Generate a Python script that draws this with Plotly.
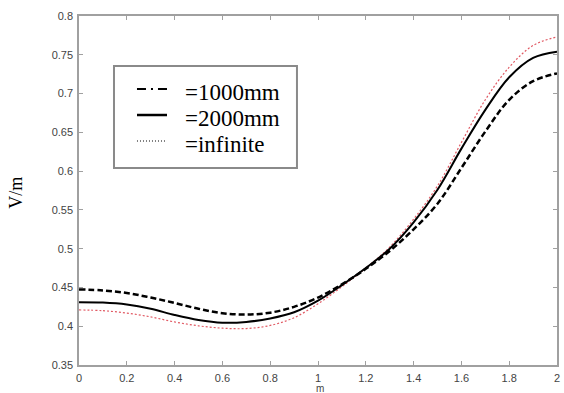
import plotly.graph_objects as go

# ---- data ----
x_m = [0.0, 0.1, 0.2, 0.3, 0.4, 0.5, 0.6, 0.7, 0.8, 0.9, 1.0,
       1.1, 1.2, 1.3, 1.4, 1.5, 1.6, 1.7, 1.8, 1.9, 2.0]
v_1000mm = [0.4475, 0.4462, 0.4428, 0.437, 0.430, 0.4225, 0.4168, 0.415, 0.4175, 0.425, 0.437,
            0.454, 0.474, 0.497, 0.525, 0.558, 0.604, 0.651, 0.692, 0.716, 0.726]
v_2000mm = [0.431, 0.4305, 0.428, 0.4225, 0.4145, 0.408, 0.4045, 0.4055, 0.410, 0.418, 0.433,
            0.453, 0.475, 0.500, 0.534, 0.576, 0.629, 0.679, 0.721, 0.746, 0.754]
v_infinite = [0.421, 0.420, 0.417, 0.412, 0.4055, 0.4005, 0.3975, 0.397, 0.401, 0.411, 0.429,
              0.451, 0.475, 0.502, 0.538, 0.581, 0.637, 0.692, 0.734, 0.762, 0.773]

series_names = ["=1000mm", "=2000mm", "=infinite"]
x_tickvals = [0, 0.2, 0.4, 0.6, 0.8, 1.0, 1.2, 1.4, 1.6, 1.8, 2.0]
x_ticktext = ["0", "0.2", "0.4", "0.6", "0.8", "1", "1.2", "1.4", "1.6", "1.8", "2"]
y_tickvals = [0.35, 0.4, 0.45, 0.5, 0.55, 0.6, 0.65, 0.7, 0.75, 0.8]
y_ticktext = ["0.35", "0.4", "0.45", "0.5", "0.55", "0.6", "0.65", "0.7", "0.75", "0.8"]

fig = go.Figure()
fig.add_trace(go.Scatter(x=x_m, y=v_infinite, mode="lines", name=series_names[2],
                         line=dict(color="rgb(225,90,100)", width=1.2, dash="2px,2px", shape="spline"),
                         showlegend=False))
fig.add_trace(go.Scatter(x=x_m, y=v_2000mm, mode="lines", name=series_names[1],
                         line=dict(color="black", width=2, shape="spline"), showlegend=False))
fig.add_trace(go.Scatter(x=x_m, y=v_1000mm, mode="lines", name=series_names[0],
                         line=dict(color="black", width=2.5, dash="6px,3px", shape="spline"),
                         showlegend=False))

axis_common = dict(showline=True, linecolor="#a0a0a0", linewidth=1.5, mirror="ticks",
                   ticks="inside", ticklen=4, tickcolor="#a0a0a0", showgrid=False,
                   zeroline=False, tickfont=dict(family="Arial, Liberation Sans", size=11, color="#444"))

fig.update_xaxes(range=[0, 2], tickvals=x_tickvals, ticktext=x_ticktext, ticklabelstandoff=2, **axis_common)
fig.update_yaxes(range=[0.35, 0.8], tickvals=y_tickvals, ticktext=y_ticktext, ticklabelstandoff=2, **axis_common)

# ---- manual legend (paper coords) ----
shapes = [dict(type="rect", xref="paper", yref="paper", x0=0.0732, x1=0.456, y0=0.5645, y1=0.8567,
               line=dict(color="#8a8a8a", width=2), fillcolor="white")]
legend_rows_y = [0.7908, 0.7163, 0.6418]
legend_styles = [dict(color="black", width=2, dash="9px,5px,2px,5px,9px"),
                 dict(color="black", width=2.5),
                 dict(color="black", width=1.2, dash="1px,2px")]
annotations = []
for name, yy, st in zip(series_names, legend_rows_y, legend_styles):
    shapes.append(dict(type="line", xref="paper", yref="paper", x0=0.1213, x1=0.1841, y0=yy, y1=yy, line=st))
    annotations.append(dict(xref="paper", yref="paper", x=0.2176, y=yy - 0.009, text=name,
                            showarrow=False, xanchor="left", yanchor="middle",
                            font=dict(family="Liberation Serif", size=23, color="black")))

annotations.append(dict(xref="paper", yref="paper", x=-0.132, y=0.493, text="V/m", textangle=-90,
                        showarrow=False, xanchor="center", yanchor="middle",
                        font=dict(family="Liberation Serif", size=18, color="black")))
annotations.append(dict(xref="paper", yref="paper", x=0.504, y=-0.068, text="m",
                        showarrow=False, xanchor="center", yanchor="middle",
                        font=dict(family="Arial, Liberation Sans", size=10, color="#444")))

fig.update_layout(width=564, height=393, margin=dict(l=79, r=7, t=16, b=28, autoexpand=False),
                  plot_bgcolor="white", paper_bgcolor="white",
                  shapes=shapes, annotations=annotations, showlegend=False)

fig.write_html("out.html", config={"displayModeBar": False},
               post_script="document.body.style.margin='0';document.body.style.padding='0';")
